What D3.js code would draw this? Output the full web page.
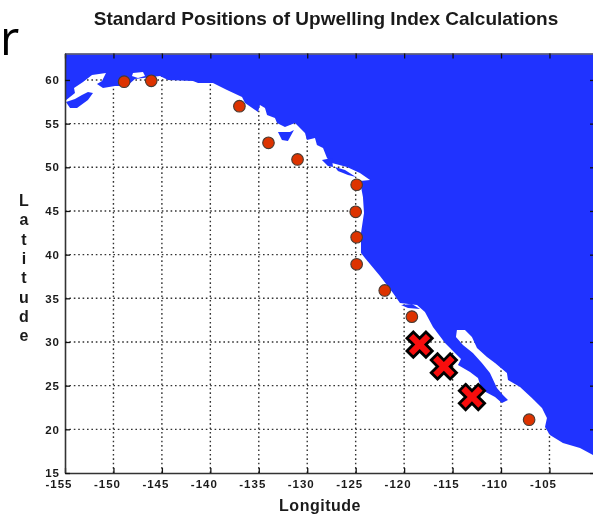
<!DOCTYPE html>
<html>
<head>
<meta charset="utf-8">
<title>Standard Positions of Upwelling Index Calculations</title>
<script src="https://cdn.jsdelivr.net/npm/d3@7"></script>
<style>
  html, body { margin: 0; padding: 0; background: #fff; overflow: hidden; }
  svg { display: block; filter: blur(0.45px); }
  text { font-family: "Liberation Sans", Arial, sans-serif; fill: #1a1a1a; }
  .tick-label text { font-size: 11.5px; font-weight: bold; letter-spacing: 1px; }
  .grid line { stroke: #333; stroke-width: 1.4; stroke-dasharray: 1.6 2.8; }
</style>
</head>
<body>
<div id="chart"></div>
<script>
const lonTicks = [-155, -150, -145, -140, -135, -130, -125, -120, -115, -110, -105];
const latTicks = [15, 20, 25, 30, 35, 40, 45, 50, 55, 60];

// standard stations, lon / lat
const stationLon = [-148.9, -146.1, -137.0, -134.0, -131.0, -124.9, -125.0, -124.9, -124.9, -122.0, -119.2, -107.1];
const stationLat = [59.8, 59.9, 57.0, 52.8, 50.9, 48.0, 44.9, 42.0, 38.9, 35.9, 32.9, 21.1];

// the three highlighted positions
const crossLon = [-118.4, -115.9, -113.0];
const crossLat = [29.7, 27.2, 23.7];

// coastline, west to east, goes round the Gulf of California
const coast = [
  [-155.00, 57.59], [-153.97, 58.51], [-154.07, 59.08], [-153.14, 59.77], [-152.21, 60.57],
  [-150.77, 60.80], [-151.18, 59.88], [-151.70, 59.54], [-151.08, 59.08], [-149.84, 59.31],
  [-148.60, 59.31], [-147.78, 60.11], [-145.20, 60.46], [-144.37, 60.00], [-141.79, 59.88],
  [-141.27, 59.66], [-139.73, 59.66], [-138.28, 58.85], [-136.73, 58.05], [-136.42, 57.37],
  [-135.08, 56.33], [-134.88, 57.14], [-134.36, 56.79], [-134.15, 55.99], [-133.33, 55.65],
  [-133.12, 55.08], [-132.30, 54.62], [-131.26, 55.08], [-130.54, 54.27], [-130.23, 53.93],
  [-130.03, 53.13], [-129.20, 53.36], [-129.00, 52.56], [-128.37, 52.21], [-127.96, 51.07],
  [-127.45, 50.50], [-125.90, 50.04], [-124.56, 49.35], [-123.52, 48.55], [-124.56, 48.43],
  [-124.25, 46.60], [-124.14, 44.77], [-124.45, 42.48], [-124.45, 40.19], [-124.04, 39.62],
  [-122.49, 37.56], [-121.15, 35.61], [-120.43, 34.47], [-118.67, 34.24], [-117.85, 33.43],
  [-117.02, 31.72], [-115.78, 29.89], [-114.13, 28.05], [-114.44, 27.37], [-113.20, 26.56],
  [-112.38, 25.88], [-111.97, 24.50], [-110.62, 23.70], [-109.90, 23.02], [-109.28, 23.36],
  [-109.80, 23.93], [-110.42, 24.73], [-111.14, 26.45], [-111.97, 27.60], [-112.90, 28.74],
  [-113.93, 29.66], [-114.65, 30.57], [-114.55, 31.37], [-113.72, 31.37], [-113.00, 30.57],
  [-112.48, 29.31], [-111.45, 28.28], [-110.62, 27.60], [-109.39, 26.45], [-109.28, 25.65],
  [-108.04, 24.85], [-106.81, 23.59], [-105.77, 22.44], [-105.26, 21.30], [-105.46, 20.27],
  [-104.95, 19.35], [-103.61, 18.44], [-101.85, 17.86], [-100.30, 16.95]
];

// islands and inlets
const landPatches = [
  [[-154.90, 57.48], [-154.48, 56.79], [-153.76, 56.79], [-152.63, 57.71], [-152.11, 58.51], [-152.63, 58.62], [-153.25, 58.28], [-153.97, 57.82]],
  [[-133.02, 54.04], [-131.78, 54.04], [-131.37, 54.27], [-131.99, 53.01], [-132.61, 53.13]],
  [[-128.48, 50.84], [-127.45, 51.07], [-127.34, 50.04], [-127.86, 50.15]],
  [[-127.14, 50.04], [-126.10, 49.69], [-124.97, 48.89], [-125.79, 49.12], [-126.83, 49.58]],
  [[-120.32, 34.24], [-119.19, 34.35], [-118.36, 33.78], [-119.60, 33.89]]
];
const waterPatches = [
  [[-148.09, 60.46], [-147.98, 60.80], [-146.95, 60.91], [-146.74, 60.46], [-147.47, 60.23]]
];

const width = 593;
const height = 514;
const plot = { left: 65, right: 595, top: 53.5, bottom: 473 };
const landColor = '#2033ff';
const markerRed = '#dd3300';

const x = d3.scaleLinear().domain([-155, -100.3]).range([plot.left, plot.right]);
const y = d3.scaleLinear().domain([15, 63.03]).range([plot.bottom, plot.top]);

const svg = d3.select('#chart').append('svg')
  .attr('width', width)
  .attr('height', height);

// grid goes under the land, it only shows over the water
const gridLons = lonTicks.slice(1);
const gridLats = latTicks.slice(1);
const grid = svg.append('g').attr('class', 'grid');
grid.selectAll('.v').data(gridLons).enter().append('line')
  .attr('x1', d => x(d)).attr('x2', d => x(d))
  .attr('y1', plot.top).attr('y2', plot.bottom);
grid.selectAll('.h').data(gridLats).enter().append('line')
  .attr('x1', plot.left).attr('x2', plot.right)
  .attr('y1', d => y(d)).attr('y2', d => y(d));

const line = d3.line().x(d => x(d[0])).y(d => y(d[1]));

const landOutline = coast.concat([[-100.3, 63.03], [-155, 63.03]]);
svg.append('path')
  .attr('d', line(landOutline) + 'Z')
  .attr('fill', landColor);

svg.selectAll('.patch-land').data(landPatches).enter().append('path')
  .attr('class', 'patch-land')
  .attr('d', d => line(d) + 'Z')
  .attr('fill', landColor);

svg.selectAll('.patch-water').data(waterPatches).enter().append('path')
  .attr('class', 'patch-water')
  .attr('d', d => line(d) + 'Z')
  .attr('fill', '#fff');

// axes
const bottomAxis = d3.axisBottom(x).tickValues(lonTicks).tickSize(-5).tickSizeOuter(0).tickPadding(6);
const topAxis = d3.axisTop(x).tickValues(lonTicks).tickSize(-5).tickSizeOuter(0).tickFormat('');
const leftAxis = d3.axisLeft(y).tickValues(latTicks).tickSize(-5).tickSizeOuter(0).tickPadding(5);
const rightAxis = d3.axisRight(y).tickValues(latTicks).tickSize(-5).tickSizeOuter(0).tickFormat('');

function addAxis(axis, tx, ty, frame) {
  const g = svg.append('g')
    .attr('class', 'tick-label')
    .attr('transform', `translate(${tx},${ty})`)
    .call(axis);
  g.select('.domain').attr('stroke', frame.color).attr('stroke-width', frame.width);
  g.selectAll('.tick line').attr('stroke', '#111').attr('stroke-width', 1.3);
  return g;
}

const formatMinus = d => String(d);
const gBottom = addAxis(bottomAxis.tickFormat(formatMinus), 0, plot.bottom, { color: '#333', width: 1.6 });
gBottom.selectAll('.tick text').attr('dx', -6.5).attr('y', 7);
addAxis(topAxis, 0, plot.top, { color: '#666', width: 1.4 });
addAxis(leftAxis, plot.left, 0, { color: '#333', width: 1.6 });
addAxis(rightAxis, plot.right, 0, { color: '#333', width: 1.4 });

// stations
svg.selectAll('.station').data(stationLon).enter().append('circle')
  .attr('class', 'station')
  .attr('cx', d => x(d))
  .attr('cy', (d, i) => y(stationLat[i]))
  .attr('r', 5.8)
  .attr('fill', markerRed)
  .attr('stroke', '#4a3a30')
  .attr('stroke-width', 1.1);

const crossPath = d3.symbol().type(d3.symbolCross).size(400)();
svg.selectAll('.cross').data(crossLon).enter().append('path')
  .attr('class', 'cross')
  .attr('d', crossPath)
  .attr('transform', (d, i) => `translate(${x(d)},${y(crossLat[i])}) rotate(45)`)
  .attr('fill', '#f80d0d')
  .attr('stroke', '#000')
  .attr('stroke-width', 2.8);

// text
svg.append('text')
  .attr('x', 326)
  .attr('y', 25)
  .attr('text-anchor', 'middle')
  .style('font-size', '19px')
  .style('font-weight', 'bold')
  .text('Standard Positions of Upwelling Index Calculations');

svg.append('text')
  .attr('x', 320)
  .attr('y', 511)
  .attr('text-anchor', 'middle')
  .style('font-size', '16px')
  .style('font-weight', 'bold')
  .style('letter-spacing', '0.5px')
  .text('Longitude');

const yLabel = svg.append('text')
  .attr('text-anchor', 'middle')
  .style('font-size', '16px')
  .style('font-weight', 'bold');
Array.from('Latitude').forEach((ch, i) => {
  yLabel.append('tspan')
    .attr('x', 24)
    .attr('y', 206 + i * 19.3)
    .text(ch);
});

// leftover letter from the slide title behind the chart
svg.append('text')
  .attr('x', 0)
  .attr('y', 55)
  .style('font-family', '"Open Sans", sans-serif')
  .style('font-size', '47px')
  .style('font-weight', 400)
  .style('fill', '#000')
  .text('r');
</script>
</body>
</html>
